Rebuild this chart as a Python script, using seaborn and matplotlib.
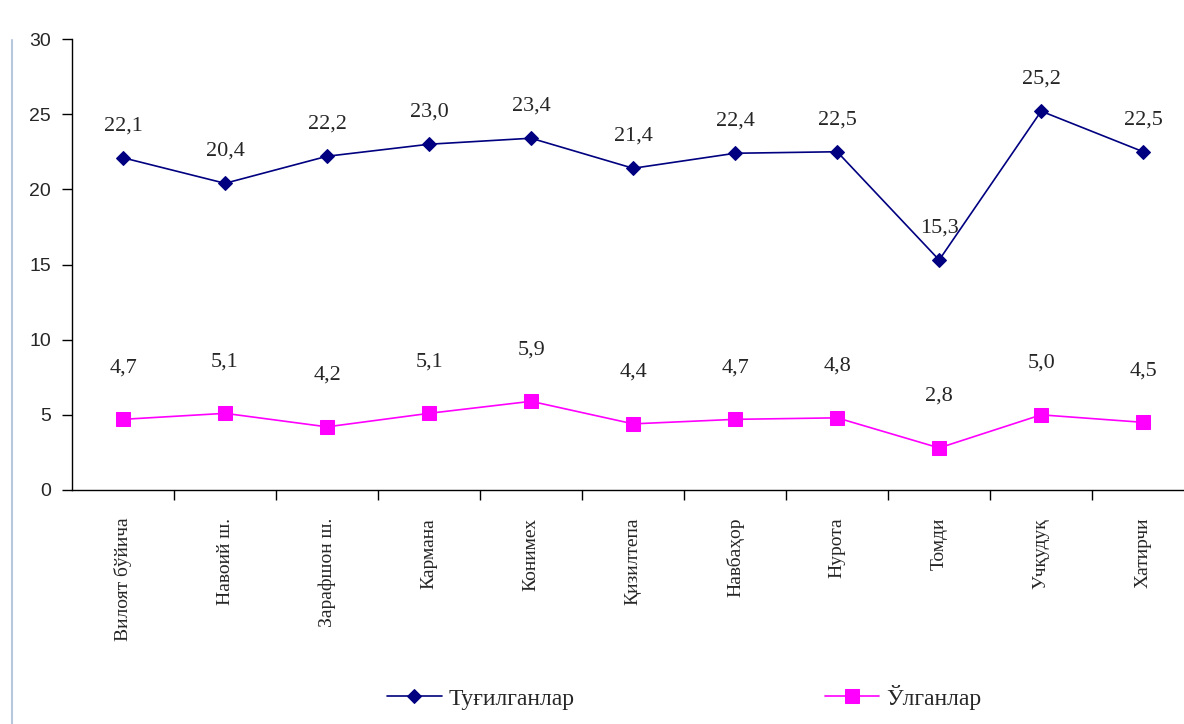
import numpy as np
import pandas as pd
import seaborn as sns
import matplotlib.pyplot as plt
from matplotlib.ticker import FixedLocator

regions = ["Вилоят бўйича", "Навоий ш.", "Зарафшон ш.", "Кармана", "Конимех",
           "Қизилтепа", "Навбаҳор", "Нурота", "Томди", "Учқудуқ", "Хатирчи"]
born = [22.1, 20.4, 22.2, 23.0, 23.4, 21.4, 22.4, 22.5, 15.3, 25.2, 22.5]
died = [4.7, 5.1, 4.2, 5.1, 5.9, 4.4, 4.7, 4.8, 2.8, 5.0, 4.5]
series_names = ["Туғилганлар", "Ўлганлар"]
y_ticks = [0, 5, 10, 15, 20, 25, 30]

df = pd.DataFrame({
    "pos": list(range(len(regions))) * 2,
    "value": born + died,
    "series": [series_names[0]] * len(born) + [series_names[1]] * len(died),
})

sns.set_style("white")
plt.rcParams["font.family"] = ["Liberation Serif", "DejaVu Serif"]

fig = plt.figure(figsize=(11.84, 7.24), dpi=100)
ax = fig.add_axes([72 / 1184, 1 - 490 / 724, 1 - 72 / 1184, (490 - 39) / 724])

colors = {series_names[0]: "#000080", series_names[1]: "#FF00FF"}
markers = {series_names[0]: "D", series_names[1]: "s"}
sizes = {series_names[0]: 7, series_names[1]: 10.5}

for name in series_names:
    sub = df[df["series"] == name]
    sns.lineplot(data=sub, x="pos", y="value", ax=ax, color=colors[name],
                 marker=markers[name], markersize=sizes[name], markeredgecolor=colors[name],
                 linewidth=1.2, label=name, legend=False)

# data labels
for name, offs in [(series_names[0], 23), (series_names[1], 37)]:
    sub = df[df["series"] == name]
    for x, v in zip(sub["pos"], sub["value"]):
        ax.annotate(f"{v:.1f}".replace(".", ","), (x, v), xytext=(0, offs),
                    textcoords="offset points", ha="center", va="center", fontsize=16)

ax.set_xlim(-0.5, 10.4)
ax.set_ylim(0, 30)
ax.set_xticks(range(len(regions)))
ax.set_xticklabels(regions, rotation=90, fontsize=14, va="top")
ax.xaxis.set_minor_locator(FixedLocator(np.arange(0.5, 10.0, 1.0)))
ax.tick_params(axis="x", which="major", length=0, pad=20)
ax.tick_params(axis="x", which="minor", length=7, direction="out", width=1, color="black", bottom=True)
ax.set_yticks(y_ticks)
ax.set_yticklabels([str(t) for t in y_ticks], family="Liberation Sans", fontsize=14)
ax.tick_params(axis="y", length=7, direction="out", width=1, color="black", left=True, pad=8)
ax.set_xlabel("")
ax.set_ylabel("")
for side in ["top", "right"]:
    ax.spines[side].set_visible(False)
for side in ["left", "bottom"]:
    ax.spines[side].set_color("black")
    ax.spines[side].set_linewidth(1)

handles, labels = ax.get_legend_handles_labels()
fig.legend(handles, labels, loc="center", bbox_to_anchor=(0.578, 1 - 697 / 724), ncol=2,
           frameon=False, fontsize=17, columnspacing=10.6, handlelength=2.3, handletextpad=0.3)

fig.add_artist(plt.Line2D([12 / 1184, 12 / 1184], [0, 1 - 40 / 724], transform=fig.transFigure,
                          color="#b8c8dc", linewidth=1.5))

fig.savefig("out.png", dpi=100)
